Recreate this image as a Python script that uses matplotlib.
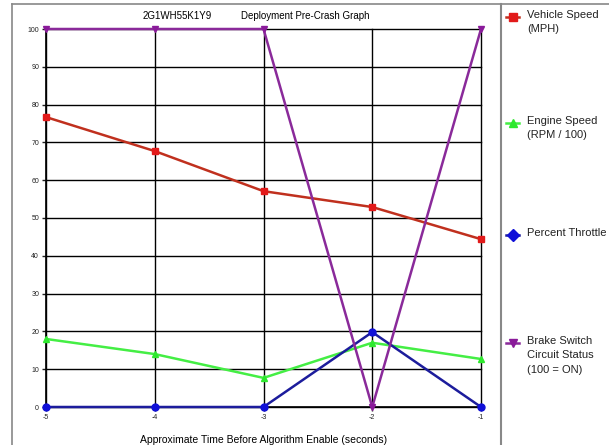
import matplotlib
matplotlib.use("Agg")
import matplotlib.pyplot as plt
from matplotlib.lines import Line2D

plt.rcParams["font.family"] = ["Liberation Sans", "DejaVu Sans"]

times = [-5, -4, -3, -2, -1]
vehicle_speed = [76.7, 67.7, 57.1, 52.9, 44.4]
engine_speed = [18.0, 14.0, 7.7, 17.0, 12.7]
throttle = [0, 0, 0, 19.8, 0]
brake = [100, 100, 100, 0, 100]
yticks = [0, 10, 20, 30, 40, 50, 60, 70, 80, 90, 100]

series = [
    ("Vehicle Speed\n(MPH)", vehicle_speed, "#e21a1a", "#c0301e", "s", "s"),
    ("Engine Speed\n(RPM / 100)", engine_speed, "#2ee82e", "#44ee44", "^", "^"),
    ("Percent Throttle", throttle, "#1010d8", "#1c1c9c", "o", "D"),
    ("Brake Switch\nCircuit Status\n(100 = ON)", brake, "#8a1a9a", "#8a2a9a", "v", "v"),
]

fig = plt.figure(figsize=(6.09, 4.45), dpi=100)
ax = fig.add_axes([46/609, 1-407/445, (481-46)/609, (407-29)/445])
ax.set_xlim(-5, -1)
ax.set_ylim(0, 100)
ax.set_xticks(times)
ax.set_xticklabels([str(t) for t in times])
ax.set_yticks(yticks)
for s in ["top", "right"]:
    ax.spines[s].set_visible(False)
ax.spines["left"].set_linewidth(1.2)
ax.spines["bottom"].set_linewidth(1.2)
ax.grid(True, color="black", linewidth=1.0)
for gl in ax.get_xgridlines() + ax.get_ygridlines():
    gl.set_clip_on(False)
ax.tick_params(axis="both", labelsize=5, length=3, width=1, colors="#222222", pad=2)

for label, vals, mc, lc, m, lm in series:
    ax.plot(times, vals, color=lc, linewidth=1.8, marker=m, markersize=5,
            markerfacecolor=mc, markeredgecolor=mc, clip_on=False, zorder=3)

ax.set_xlabel("Approximate Time Before Algorithm Enable (seconds)", fontsize=7.5, labelpad=10)

fig.text(177/609, 1-16/445, "2G1WH55K1Y9", fontsize=7, ha="center", va="center")
fig.text(305/609, 1-16/445, "Deployment Pre-Crash Graph", fontsize=7, ha="center", va="center")

# frame lines
fig.add_artist(Line2D([12/609, 12/609], [0, 1-4/445], color="#888888", linewidth=1.2))
fig.add_artist(Line2D([12/609, 1], [1-4/445, 1-4/445], color="#888888", linewidth=1.2))
fig.add_artist(Line2D([501/609, 501/609], [0, 1-4/445], color="#888888", linewidth=1.5))

# legend entries
leg_y = [17, 123, 235, 343]
for (label, vals, mc, lc, m, lm), y in zip(series, leg_y):
    yf = 1 - y/445
    fig.add_artist(Line2D([506/609, 519/609], [yf, yf], color=lc, linewidth=1.8))
    fig.add_artist(Line2D([512.5/609], [yf], color=mc, marker=lm, markersize=6,
                          markerfacecolor=mc, markeredgecolor=mc))
    fig.text(527/609, yf + 7/445, label, fontsize=8, ha="left", va="top",
             linespacing=1.55, color="#222222")

fig.savefig("out.png", dpi=100)
